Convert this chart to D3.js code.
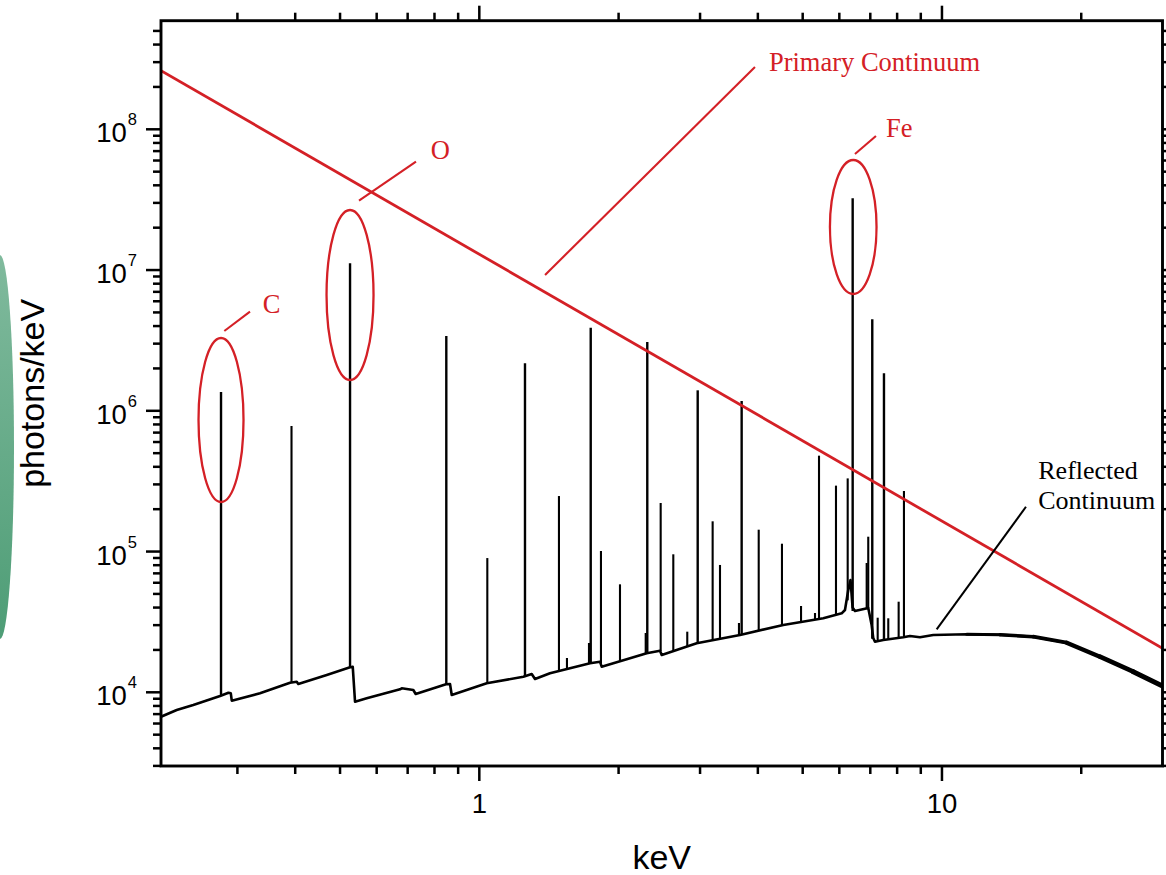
<!DOCTYPE html>
<html>
<head>
<meta charset="utf-8">
<script src="https://cdn.jsdelivr.net/npm/d3@7"></script>
<style>
  body { margin: 0; background: #ffffff; }
  svg { display: block; }
</style>
</head>
<body>
<svg id="chart" width="1166" height="875"></svg>
<script>
// ---- Spectrum data (energy in keV, flux in photons/keV) ----

// Reflected continuum (with absorption edges and Compton shoulder)
const continuumEnergy = [0.2051, 0.2218, 0.2408, 0.2752, 0.2869, 0.2903, 0.2917, 0.3357, 0.3898, 0.4030,
  0.4062, 0.4680, 0.5255, 0.5326, 0.5387, 0.5710, 0.6740, 0.6797, 0.7200, 0.7286,
  0.8472, 0.8643, 0.8717, 1.0375, 1.245, 1.298, 1.3194, 1.4215, 1.494, 1.735,
  1.8233, 1.8386, 2.300, 2.458, 2.479, 2.950, 3.660, 4.539, 5.540, 6.071,
  6.171, 6.273, 6.343, 6.410, 6.486, 6.929, 7.047, 7.103, 7.164, 7.467,
  8.249, 8.527, 8.963, 9.576, 11.31, 13.35, 15.75, 18.60, 21.95, 25.91, 29.97];
const continuumFlux = [6709, 7486, 8124, 9412, 9935, 9838, 8716, 9838, 11700, 11892,
  11455, 13271, 15053, 15203, 8576, 9065, 10503, 10676, 10383, 9725,
  11397, 11455, 9567, 11585, 12906, 13490, 12430, 13646, 14237, 16069,
  16496, 15203, 18931, 19754, 18408, 22291, 25534, 30083, 33560, 36417,
  38428, 53310, 62800, 40000, 37810, 39710, 30083, 24310, 22880, 23530,
  24590, 25119, 24590, 25534, 25830, 25660, 24830, 22510, 17900, 14007, 11087];

// Emission lines: energy, flux at the foot of the line, flux at the peak
const lineEnergy = [0.2765, 0.3927, 0.5255, 0.8485, 1.0406, 1.2552, 1.4864, 1.5468, 1.726, 1.741,
  1.832, 2.014, 2.289, 2.307, 2.466, 2.626, 2.815, 2.965, 3.194, 3.313,
  3.641, 3.690, 4.017, 4.510, 4.959, 5.316, 5.423, 5.901, 6.255, 6.412,
  6.875, 6.929, 7.069, 7.262, 7.493, 7.655, 8.061, 8.276];
const lineBase = [9412, 11700, 15053, 11397, 11585, 13055, 14166, 14640, 16020, 16069,
  16000, 16630, 18800, 18931, 19650, 19620, 21330, 22400, 23330, 23920,
  25330, 25534, 27260, 29830, 31590, 32900, 33440, 35710, 45000, 37810,
  39390, 39710, 24000, 23140, 23530, 23530, 24310, 24590];
const linePeak = [1.36e6, 7.8e5, 1.117e7, 3.40e6, 8.99e4, 2.175e6, 2.48e5, 17530, 22400, 3.895e6,
  1.009e5, 5.85e4, 26380, 3.08e6, 2.213e5, 9.56e4, 26960, 1.398e6, 1.64e5, 8.03e4,
  31080, 1.174e6, 1.43e5, 1.137e5, 41040, 36590, 4.80e5, 2.94e5, 3.31e5, 3.234e7,
  82930, 1.275e5, 4.47e6, 33884, 1.846e6, 33560, 44030, 2.693e5];

// Primary power-law continuum (straight in log-log space)
const primaryEnergy = [0.2051, 29.97];
const primaryFlux = [2.61e8, 2.054e4];

// Circled element lines
const circleNames = ["C", "O", "Fe"];
const circleEnergy = [0.2765, 0.5255, 6.43];
const circleTop = [3.29e6, 2.67e7, 6.05e7];
const circleBottom = [2.25e5, 1.655e6, 6.76e6];
// leader line start/end and label anchor (energy, flux)
const circleLeaderFrom = [[0.2811, 3.69e6], [0.5495, 3.11e7], [6.486, 6.68e7]];
const circleLeaderTo = [[0.3194, 5.06e6], [0.7296, 5.89e7], [7.20, 8.96e7]];
const circleLabelAt = [[0.3403, 4.93e6], [0.785, 6.12e7], [7.568, 8.77e7]];

// Continuum labels
const primaryLabel = "Primary Continuum";
const primaryLabelAt = [4.227, 2.596e8];
const primaryLeader = [[1.387, 9.23e6], [3.943, 2.77e8]];
const reflectedLabel = ["Reflected", "Continuum"];
const reflectedLabelAt = [16.15, 3.28e5];
const reflectedLeader = [[15.19, 2.08e5], [9.739, 28030]];

// Axes
const xDomain = [0.2051, 29.97];
const yDomain = [2995, 5.91e8];
const xTickLabels = [[1, "1"], [10, "10"]];
const yTickExponents = [4, 5, 6, 7, 8];
const xTitle = "keV";
const yTitle = "photons/keV";

// ---- Drawing ----
const svg = d3.select("#chart");
const plot = { left: 161, top: 20.7, right: 1162.5, bottom: 766 };

const RED = "#d42026";
const SANS = "'Liberation Sans', Arial, Helvetica, sans-serif";
const SERIF = "'Liberation Serif', 'Times New Roman', Times, serif";

const x = d3.scaleLog().domain(xDomain).range([plot.left, plot.right]);
const y = d3.scaleLog().domain(yDomain).range([plot.bottom, plot.top]);

// soft green shape at the left edge of the page
const defs = svg.append("defs");
const grad = defs.append("linearGradient").attr("id", "leafGrad")
  .attr("x1", 0).attr("y1", 0).attr("x2", 0).attr("y2", 1);
grad.append("stop").attr("offset", "0%").attr("stop-color", "#80ba9d");
grad.append("stop").attr("offset", "100%").attr("stop-color", "#4e9d76");
svg.append("ellipse")
  .attr("cx", 0).attr("cy", 447).attr("rx", 14).attr("ry", 192)
  .attr("fill", "url(#leafGrad)");

defs.append("clipPath").attr("id", "plotClip")
  .append("rect")
  .attr("x", plot.left).attr("y", plot.top)
  .attr("width", plot.right - plot.left).attr("height", plot.bottom - plot.top);

const g = svg.append("g").attr("clip-path", "url(#plotClip)");

// reflected continuum: drawn segment by segment so the noisy
// high-energy tail can be stroked heavier
const contPts = continuumEnergy.map((e, i) => [e, continuumFlux[i]]);
const lineGen = d3.line().x(d => x(d[0])).y(d => y(d[1]));
const tailWidth = d3.scaleLog().domain([10, 30]).range([2.6, 5.2]).clamp(true);
g.append("path")
  .datum(contPts)
  .attr("d", lineGen)
  .attr("fill", "none")
  .attr("stroke", "#000")
  .attr("stroke-width", 2.6)
  .attr("stroke-linejoin", "round");
g.selectAll("line.tail")
  .data(d3.pairs(contPts).filter(p => p[0][0] >= 10))
  .join("line")
  .attr("class", "tail")
  .attr("x1", p => x(p[0][0])).attr("y1", p => y(p[0][1]))
  .attr("x2", p => x(p[1][0])).attr("y2", p => y(p[1][1]))
  .attr("stroke", "#000")
  .attr("stroke-linecap", "round")
  .attr("stroke-width", p => tailWidth(Math.sqrt(p[0][0] * p[1][0])));

// emission lines
g.selectAll("line.spike")
  .data(lineEnergy.map((e, i) => ({ e, b: lineBase[i], p: linePeak[i] })))
  .join("line")
  .attr("class", "spike")
  .attr("x1", d => x(d.e)).attr("x2", d => x(d.e))
  .attr("y1", d => y(d.b)).attr("y2", d => y(d.p))
  .attr("stroke", "#000")
  .attr("stroke-width", d => d.p > 1e6 ? 2.4 : 2.1);

// primary continuum
g.append("path")
  .datum(primaryEnergy.map((e, i) => [e, primaryFlux[i]]))
  .attr("d", lineGen)
  .attr("fill", "none")
  .attr("stroke", RED)
  .attr("stroke-width", 2.8);

// ---- Frame and ticks ----
const TICK_MAJ = 15, TICK_MIN = 8;
const isMajor = v => Math.abs(Math.log10(v) - Math.round(Math.log10(v))) < 1e-6;
const axisG = svg.append("g").attr("stroke", "#000").attr("stroke-width", 2.5);

x.ticks().forEach(v => {
  const px = x(v), len = isMajor(v) ? TICK_MAJ : TICK_MIN;
  axisG.append("line").attr("x1", px).attr("x2", px).attr("y1", plot.bottom).attr("y2", plot.bottom + len);
  axisG.append("line").attr("x1", px).attr("x2", px).attr("y1", plot.top).attr("y2", plot.top - len);
});
y.ticks().forEach(v => {
  const py = y(v), len = isMajor(v) ? TICK_MAJ : TICK_MIN;
  axisG.append("line").attr("y1", py).attr("y2", py).attr("x1", plot.left).attr("x2", plot.left - len);
  axisG.append("line").attr("y1", py).attr("y2", py).attr("x1", plot.right).attr("x2", plot.right + len);
});
svg.append("rect")
  .attr("x", plot.left).attr("y", plot.top)
  .attr("width", plot.right - plot.left).attr("height", plot.bottom - plot.top)
  .attr("fill", "none").attr("stroke", "#000").attr("stroke-width", 2.9);

// tick labels
svg.selectAll("text.xtick")
  .data(xTickLabels)
  .join("text")
  .attr("class", "xtick")
  .attr("x", d => x(d[0]))
  .attr("y", plot.bottom + 47)
  .attr("text-anchor", "middle")
  .attr("font-family", SANS)
  .attr("font-size", 27.5)
  .attr("fill", "#000")
  .text(d => d[1]);

const ylab = svg.selectAll("text.ytick")
  .data(yTickExponents)
  .join("text")
  .attr("class", "ytick")
  .attr("x", 137)
  .attr("y", d => y(Math.pow(10, d)) + 13)
  .attr("text-anchor", "end")
  .attr("font-family", SANS)
  .attr("font-size", 27.5)
  .attr("fill", "#000");
ylab.append("tspan").text("10");
ylab.append("tspan").attr("dy", -17).attr("dx", 1).attr("font-size", 16.5).text(d => d);

// axis titles
svg.append("text")
  .attr("x", (plot.left + plot.right) / 2)
  .attr("y", 869)
  .attr("text-anchor", "middle")
  .attr("font-family", SANS)
  .attr("font-size", 34)
  .attr("fill", "#000")
  .text(xTitle);
svg.append("text")
  .attr("transform", `translate(44, ${(plot.top + plot.bottom) / 2}) rotate(-90)`)
  .attr("text-anchor", "middle")
  .attr("font-family", SANS)
  .attr("font-size", 34)
  .attr("fill", "#000")
  .text(yTitle);

// ---- Annotations ----
const ann = svg.append("g");
const RX = [22.5, 23.5, 23.3];
circleNames.forEach((name, i) => {
  const yt0 = y(circleTop[i]), yb0 = y(circleBottom[i]);
  ann.append("ellipse")
    .attr("cx", x(circleEnergy[i]))
    .attr("cy", (yt0 + yb0) / 2)
    .attr("rx", RX[i])
    .attr("ry", (yb0 - yt0) / 2)
    .attr("fill", "none")
    .attr("stroke", RED)
    .attr("stroke-width", 2.3);
  ann.append("line")
    .attr("x1", x(circleLeaderFrom[i][0])).attr("y1", y(circleLeaderFrom[i][1]))
    .attr("x2", x(circleLeaderTo[i][0])).attr("y2", y(circleLeaderTo[i][1]))
    .attr("stroke", RED).attr("stroke-width", 2.1);
  ann.append("text")
    .attr("x", x(circleLabelAt[i][0])).attr("y", y(circleLabelAt[i][1]))
    .attr("font-family", SERIF).attr("font-size", 26.5)
    .attr("fill", RED)
    .text(name);
});

ann.append("line")
  .attr("x1", x(primaryLeader[0][0])).attr("y1", y(primaryLeader[0][1]))
  .attr("x2", x(primaryLeader[1][0])).attr("y2", y(primaryLeader[1][1]))
  .attr("stroke", RED).attr("stroke-width", 2.1);
ann.append("text")
  .attr("x", x(primaryLabelAt[0])).attr("y", y(primaryLabelAt[1]))
  .attr("font-family", SERIF).attr("font-size", 26.5)
  .attr("fill", RED)
  .text(primaryLabel);

ann.append("line")
  .attr("x1", x(reflectedLeader[0][0])).attr("y1", y(reflectedLeader[0][1]))
  .attr("x2", x(reflectedLeader[1][0])).attr("y2", y(reflectedLeader[1][1]))
  .attr("stroke", "#000").attr("stroke-width", 2);
const rt = ann.append("text")
  .attr("x", x(reflectedLabelAt[0])).attr("y", y(reflectedLabelAt[1]))
  .attr("font-family", SERIF).attr("font-size", 26)
  .attr("fill", "#000");
reflectedLabel.forEach((t, i) => {
  rt.append("tspan")
    .attr("x", x(reflectedLabelAt[0]))
    .attr("dy", i === 0 ? 0 : 30)
    .text(t);
});
</script>
</body>
</html>
